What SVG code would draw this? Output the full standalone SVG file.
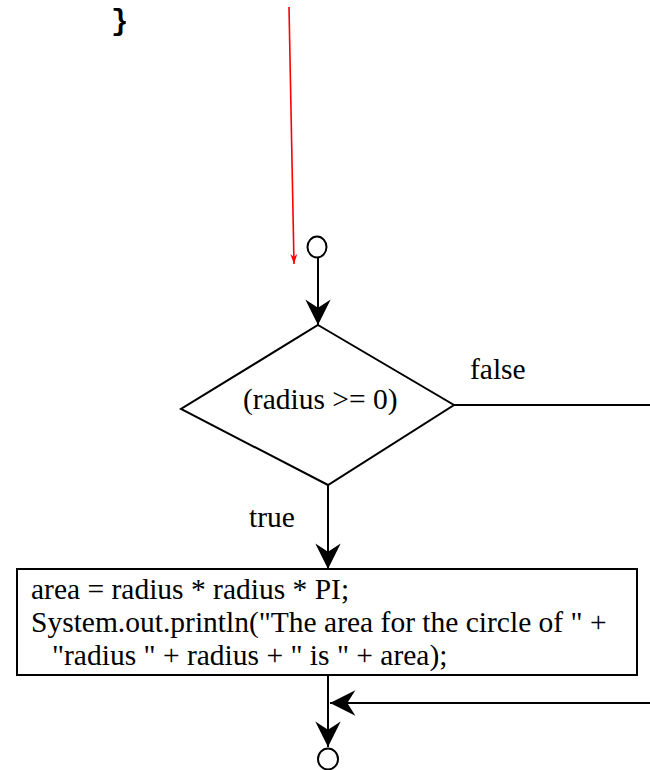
<svg xmlns="http://www.w3.org/2000/svg" width="650" height="770" viewBox="0 0 650 770">
  <style>
    .ln { stroke: #000; stroke-width: 2; fill: none; }
    .shape { stroke: #000; stroke-width: 2; fill: #fff; }
    .t { font-family: 'Liberation Serif', Tinos, 'Times New Roman', 'DejaVu Serif', serif; font-size: 29.5px; fill: #000; }
  </style>
  <defs>
    <marker id="arr" markerUnits="userSpaceOnUse" markerWidth="30" markerHeight="30" viewBox="-24 -13 26 26" refX="0" refY="0" orient="auto">
      <path d="M0,0 L-22,-11 L-15,0 L-22,11 Z" fill="#000"/>
    </marker>
    <marker id="arrRed" markerUnits="userSpaceOnUse" markerWidth="14" markerHeight="10" viewBox="-12 -5 13 10" refX="0" refY="0" orient="auto">
      <path d="M0,0 L-10,-3.5 L-7,0 L-10,3.5 Z" fill="#f00"/>
    </marker>
  </defs>

  <text x="111" y="30" font-family="'Liberation Mono', 'Courier New', monospace" font-weight="bold" font-size="29" fill="#000">}</text>

  <g id="connectors">
    <line x1="289" y1="7" x2="294" y2="264" stroke="#f00" stroke-width="1.6" marker-end="url(#arrRed)"/>
    <line class="ln" x1="318" y1="258" x2="318" y2="325" marker-end="url(#arr)"/>
    <line class="ln" x1="328" y1="485" x2="328" y2="569" marker-end="url(#arr)"/>
    <line class="ln" x1="454" y1="405" x2="650" y2="405"/>
    <line class="ln" x1="650" y1="703" x2="330" y2="703" marker-end="url(#arr)"/>
    <line class="ln" x1="328" y1="676" x2="328" y2="747" marker-end="url(#arr)"/>
    <text class="t" x="470" y="379" font-family="Liberation Serif, serif">false</text>
    <text class="t" x="249" y="527" font-family="Liberation Serif, serif">true</text>
  </g>

  <g id="start">
    <ellipse class="shape" cx="317" cy="247" rx="9.5" ry="10.5"/>
  </g>

  <g id="decision">
    <polygon class="shape" points="318,325 454,405 328,485 181,409"/>
    <text class="t" x="243" y="409">(radius &gt;= 0)</text>
  </g>

  <g id="statement">
    <rect class="shape" x="17" y="569" width="620" height="106"/>
    <text class="t" x="31" y="599">area = radius * radius * PI;</text>
    <text class="t" x="31" y="632">System.out.println("The area for the circle of " +</text>
    <text class="t" x="52" y="665">"radius " + radius + " is " + area);</text>
  </g>

  <g id="end">
    <ellipse class="shape" cx="328" cy="759" rx="10" ry="10.5"/>
  </g>
</svg>
